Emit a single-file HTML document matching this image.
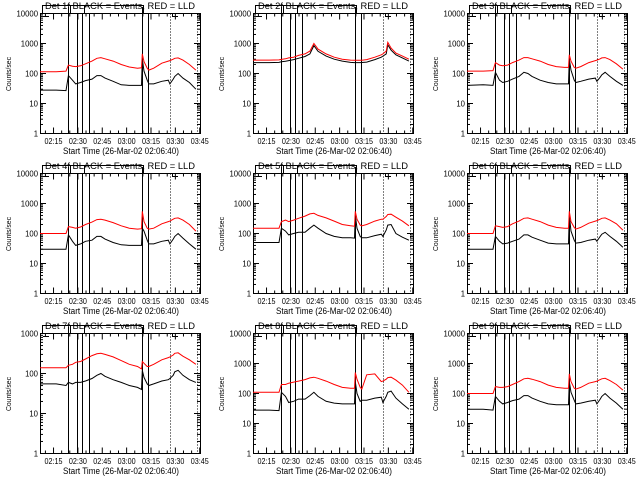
<!DOCTYPE html>
<html><head><meta charset="utf-8"><style>
html,body{margin:0;padding:0;background:#fff;}
svg{display:block;font-family:"Liberation Sans",sans-serif;}
</style></head><body>
<svg id="chart" width="640" height="480" viewBox="0 0 640 480"></svg>
<script>
// minutes since 02:06:40
const T = [0,10,16,17.5,20,22,25,28,32,35,37.5,40,45,50,55,60,62.5,63,64,66,67,70,75,79,80,82,83,85,88,92,96];
const tickLabels = ["02:15","02:30","02:45","03:00","03:15","03:30","03:45"];
const tickTimes = [8.33,23.33,38.33,53.33,68.33,83.33,98.33];
const eventSolid = [17.2,22.7,25.8,30.1,62.7,66.4];
const eventDotted = [79.9,96.5];
const detNames = ["1f","2f","3f","4f","5f","6f","7f","8f","9f"];
const yMaxDec = [4,4,4,4,4,4,3,4,4];
const black1=[28,28,27,85,60,45,50,58,65,85,85,70,55,42,40,40,40,300,120,60,45,45,55,60,45,65,80,100,70,50,30];
const red1=[115,115,120,190,175,170,180,210,260,320,340,310,260,200,165,150,155,450,250,150,130,150,220,260,270,300,320,330,280,200,130];
const black2=[230,230,235,245,255,270,290,320,370,450,850,550,380,300,260,235,230,230,230,230,232,240,290,350,380,450,900,600,420,330,260];
const red2=[280,280,285,295,310,330,350,400,450,560,1000,650,450,350,300,280,275,275,275,275,278,290,350,420,450,560,1100,700,480,380,300];
const black3=[40,42,40,110,60,50,55,65,80,110,100,80,60,50,45,45,45,300,130,60,50,55,65,70,55,75,90,110,80,55,40];
const red3=[120,120,125,230,190,180,190,230,280,340,340,310,260,200,170,160,160,420,260,160,150,170,230,270,280,310,330,340,290,210,140];
const black4=[30,30,30,90,55,40,45,55,60,80,80,65,50,42,40,40,40,150,120,60,45,45,55,60,45,65,80,100,70,45,30];
const red4=[100,100,100,170,160,150,165,200,240,290,300,280,230,180,150,140,145,550,250,150,140,150,210,250,260,300,320,330,280,200,120];
const black5=[50,50,50,150,120,90,100,110,110,150,190,150,100,80,72,72,70,400,150,80,72,72,85,95,80,130,190,200,100,75,60];
const red5=[150,150,150,250,280,250,280,320,380,450,470,400,330,260,200,180,175,550,300,190,180,200,260,300,300,370,430,440,350,260,180];
const black6=[30,30,30,80,55,45,48,55,65,90,90,75,60,48,45,45,45,400,120,60,48,50,60,65,55,80,95,110,80,55,35];
const red6=[100,100,100,180,170,160,170,210,260,320,330,300,250,190,160,150,150,550,250,160,140,160,220,260,270,300,320,330,280,210,130];
const black7=[55,55,50,60,55,60,60,65,75,90,100,85,70,60,50,45,40,120,80,55,50,55,65,70,75,90,110,120,90,70,60];
const red7=[140,140,140,160,170,190,200,230,280,310,320,300,260,210,170,150,130,200,180,150,150,170,220,250,260,290,320,330,270,220,170];
const black8=[28,28,27,110,80,50,55,65,65,85,110,80,55,48,45,45,45,250,100,55,60,60,70,75,50,80,110,120,70,45,30];
const red8=[110,110,110,200,200,220,240,260,290,330,350,320,260,200,160,150,150,500,300,160,140,420,450,250,260,300,340,350,280,190,110];
const black9=[30,30,28,80,55,45,50,58,65,85,85,70,55,45,42,42,42,250,110,60,45,48,55,60,45,65,80,100,70,48,30];
const red9=[100,100,100,170,160,160,170,200,250,310,320,300,250,190,160,150,150,450,250,150,140,160,220,250,260,290,310,320,270,200,130];
const blacks=[black1,black2,black3,black4,black5,black6,black7,black8,black9];
const reds=[red1,red2,red3,red4,red5,red6,red7,red8,red9];

const NS="http://www.w3.org/2000/svg";
const svg=document.getElementById('chart');
function mk(tag,attrs,parent){const e=document.createElementNS(NS,tag);for(const k in attrs)e.setAttribute(k,attrs[k]);(parent||svg).appendChild(e);return e;}

for(let p=0;p<9;p++){
  const col=p%3,row=Math.floor(p/3);
  const ox=Math.round(col*213.33), oy=row*160;
  const X0=ox+40,X1=ox+200,Y0=oy+13.5,Y1=oy+133.5;
  const dec=yMaxDec[p];
  const xs=t=>X0+(t/98.5)*(X1-X0);
  const ys=v=>Y1-(Math.log10(v)/dec)*(Y1-Y0);
  const g=mk('g',{});
  
  
  const ti=mk('text',{x:ox+45,y:oy+9,'font-size':9,textLength:150,lengthAdjust:'spacingAndGlyphs',fill:'#000'},g);
  ti.textContent='Det '+detNames[p]+' BLACK = Events, RED = LLD';
  
  
  mk('path',{d:`M${ox+42.5},${oy+13}V${oy+5.5}H${ox+143.5}V${oy+13}M${ox+70.5},${oy+5.5}V${oy+13}M${ox+84.5},${oy+5.5}V${oy+13}M${ox+43},${oy+16.5}H${ox+49}M${ox+172.5},${oy+13}V${oy+16.5}H${ox+178}`,stroke:'#000','stroke-width':1,fill:'none'},g);
  const box=mk('rect',{x:X0+.5,y:Y0,width:X1-X0,height:Y1-Y0,fill:'none',stroke:'#000','stroke-width':1},g);
  
  
  for(let d=0;d<=dec;d++){
    const y=ys(Math.pow(10,d));
    mk('line',{x1:X0,x2:X0+6,y1:y,y2:y,stroke:'#000'},g);
    mk('line',{x1:X1-6,x2:X1,y1:y,y2:y,stroke:'#000'},g);
    const s=String(Math.pow(10,d));
    const lb=mk('text',{x:X0-2,y:y+3,'font-size':8,'text-anchor':'end',textLength:s.length*4.3,lengthAdjust:'spacingAndGlyphs',fill:'#000'},g);
    lb.textContent=s;
    
    
    if(d<dec){for(let m=2;m<10;m++){const ym=ys(m*Math.pow(10,d));
      mk('line',{x1:X0,x2:X0+3,y1:ym,y2:ym,stroke:'#000'},g);
      mk('line',{x1:X1-3,x2:X1,y1:ym,y2:ym,stroke:'#000'},g);}}
  }
  tickTimes.forEach((t,i)=>{
    const x=xs(t);
    mk('line',{x1:x,x2:x,y1:Y1,y2:Y1-6,stroke:'#000'},g);
    mk('line',{x1:x,x2:x,y1:Y0,y2:Y0+6,stroke:'#000'},g);
    for(let m=1;m<3;m++){const xm=xs(t-m*5); if(xm>X0){mk('line',{x1:xm,x2:xm,y1:Y1,y2:Y1-3,stroke:'#000'},g);mk('line',{x1:xm,x2:xm,y1:Y0,y2:Y0+3,stroke:'#000'},g);}}
    const lb=mk('text',{x:x-9,y:oy+144,'font-size':8,textLength:18,lengthAdjust:'spacingAndGlyphs',fill:'#000'},g);
    lb.textContent=tickLabels[i];
    
    
  });
  const xl=mk('text',{x:ox+63,y:oy+154,'font-size':9,textLength:116,lengthAdjust:'spacingAndGlyphs',fill:'#000'},g);
  xl.textContent='Start Time (26-Mar-02 02:06:40)';
  
  
  const yl=mk('text',{x:0,y:0,'font-size':7,'text-anchor':'middle',textLength:34,lengthAdjust:'spacingAndGlyphs',fill:'#000',transform:`translate(${ox+11},${oy+74}) rotate(-90)`},g);
  yl.textContent='Counts/sec';
  
  
  eventSolid.forEach((t,i)=>{const x=Math.round(xs(t))+.5;
    const l=mk('line',{x1:x,x2:x,y1:(i==0||i==4)?oy+7:Y0,y2:Y1,stroke:'#000','stroke-width':1},g);
    
    });
  eventDotted.forEach(t=>{const x=Math.round(xs(t))+.5;
    const l=mk('line',{x1:x,x2:x,y1:Y0,y2:Y1,stroke:'#000','stroke-width':1,'stroke-dasharray':'1,2'},g);
    
    });
  const bp=mk('polyline',{points:T.map((t,i)=>xs(t).toFixed(1)+','+ys(blacks[p][i]).toFixed(1)).join(' '),fill:'none',stroke:'#000','stroke-width':1},g);
  
  
  const rp=mk('polyline',{points:T.map((t,i)=>xs(t).toFixed(1)+','+ys(reds[p][i]).toFixed(1)).join(' '),fill:'none',stroke:'#ff0000','stroke-width':1},g);
  
  
}
</script>
</body></html>
